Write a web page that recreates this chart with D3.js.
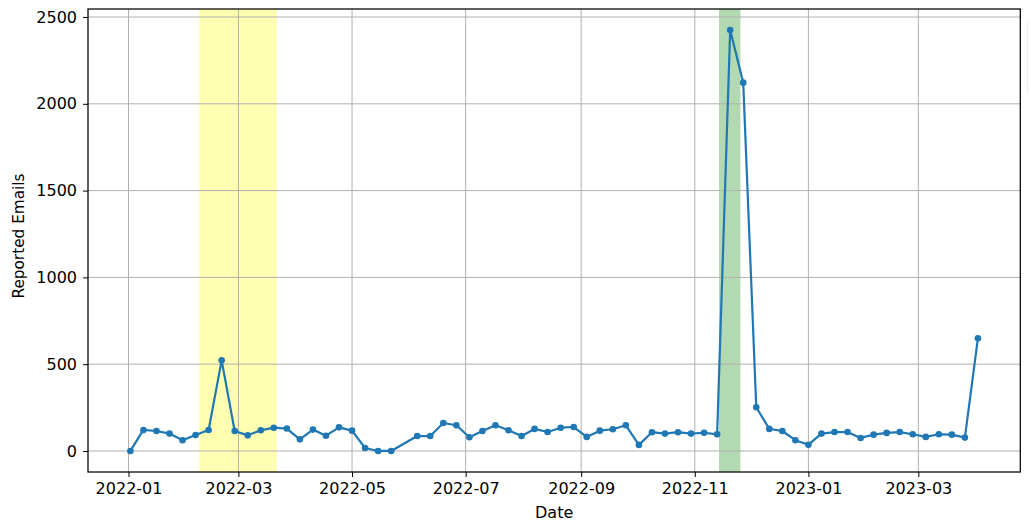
<!DOCTYPE html>
<html>
<head>
<meta charset="utf-8">
<script src="https://cdn.jsdelivr.net/npm/d3@7"></script>
<style>
  html, body { margin: 0; padding: 0; background: #fff; }
  svg { display: block; font-family: "DejaVu Sans", sans-serif; }
</style>
</head>
<body>
<svg id="chart" width="1031" height="523"></svg>
<script>
// ---- data ----
const dates = [
  "2022-01-02","2022-01-09","2022-01-16","2022-01-23","2022-01-30","2022-02-06","2022-02-13",
  "2022-02-20","2022-02-27","2022-03-06","2022-03-13","2022-03-20","2022-03-27","2022-04-03",
  "2022-04-10","2022-04-17","2022-04-24","2022-05-01","2022-05-08","2022-05-15","2022-05-22",
  "2022-06-05","2022-06-12","2022-06-19","2022-06-26","2022-07-03","2022-07-10","2022-07-17",
  "2022-07-24","2022-07-31","2022-08-07","2022-08-14","2022-08-21","2022-08-28","2022-09-04",
  "2022-09-11","2022-09-18","2022-09-25","2022-10-02","2022-10-09","2022-10-16","2022-10-23",
  "2022-10-30","2022-11-06","2022-11-13","2022-11-20","2022-11-27","2022-12-04","2022-12-11",
  "2022-12-18","2022-12-25","2023-01-01","2023-01-08","2023-01-15","2023-01-22","2023-01-29",
  "2023-02-05","2023-02-12","2023-02-19","2023-02-26","2023-03-05","2023-03-12","2023-03-19",
  "2023-03-26","2023-04-02"
];
const reportedEmails = [
  0,121,115,100,62,92,121,
  522,115,90,119,134,129,67,
  123,88,136,117,17,0,0,
  86,86,161,148,79,115,148,
  119,86,127,109,134,138,81,
  117,125,148,35,108,100,108,
  100,105,96,2425,2122,252,127,
  115,62,36,100,109,109,75,
  94,104,109,96,81,96,94,
  77,649
];
const highlightSpans = [
  { start: "2022-02-08", end: "2022-03-21T12:00", color: "#ffff00" },
  { start: "2022-11-14", end: "2022-11-25T12:00", color: "#008000" }
];
const xTickLabels = ["2022-01","2022-03","2022-05","2022-07","2022-09","2022-11","2023-01","2023-03"];
const yTicks = [0, 500, 1000, 1500, 2000, 2500];
const xLabel = "Date";
const yLabel = "Reported Emails";

// ---- layout ----
const W = 1031, H = 523;
const plot = { left: 88, right: 1020.3, top: 9, bottom: 472 };
const parse = d3.utcParse("%Y-%m-%d");
const parseSpan = s => d3.utcParse("%Y-%m-%dT%H:%M")(s) || parse(s);
const parseMonth = d3.utcParse("%Y-%m");
const data = dates.map((d, i) => ({ date: parse(d), value: reportedEmails[i] }));

const xExt = d3.extent(data, d => +d.date);
const xPad = (xExt[1] - xExt[0]) * 0.05;
const x = d3.scaleUtc()
  .domain([new Date(xExt[0] - xPad), new Date(xExt[1] + xPad)])
  .range([plot.left, plot.right]);

const yExt = d3.extent(data, d => d.value);
const yPad = (yExt[1] - yExt[0]) * 0.05;
const y = d3.scaleLinear()
  .domain([yExt[0] - yPad, yExt[1] + yPad])
  .range([plot.bottom, plot.top]);

const svg = d3.select("#chart");
svg.append("rect").attr("width", W).attr("height", H).attr("fill", "#fff");

// spans
svg.append("g").selectAll("rect").data(highlightSpans).join("rect")
  .attr("x", d => x(parseSpan(d.start)))
  .attr("width", d => x(parseSpan(d.end)) - x(parseSpan(d.start)))
  .attr("y", plot.top)
  .attr("height", plot.bottom - plot.top)
  .attr("fill", d => d.color)
  .attr("fill-opacity", 0.3);

// grid
const xTickDates = xTickLabels.map(parseMonth);
const grid = svg.append("g").attr("stroke", "#b0b0b0").attr("stroke-width", 1);
grid.selectAll("line.gx").data(xTickDates).join("line")
  .attr("class", "gx")
  .attr("x1", d => x(d)).attr("x2", d => x(d))
  .attr("y1", plot.top).attr("y2", plot.bottom);
grid.selectAll("line.gy").data(yTicks).join("line")
  .attr("class", "gy")
  .attr("x1", plot.left).attr("x2", plot.right)
  .attr("y1", d => y(d)).attr("y2", d => y(d));

// line + markers
const line = d3.line().x(d => x(d.date)).y(d => y(d.value));
svg.append("path").datum(data)
  .attr("fill", "none")
  .attr("stroke", "#1f77b4")
  .attr("stroke-width", 2.2)
  .attr("stroke-linejoin", "round")
  .attr("stroke-linecap", "square")
  .attr("d", line);
svg.append("g").selectAll("circle").data(data).join("circle")
  .attr("cx", d => x(d.date)).attr("cy", d => y(d.value))
  .attr("r", 3.3).attr("fill", "#1f77b4");

// axes
const xAxis = d3.axisBottom(x).tickValues(xTickDates).tickFormat(d3.utcFormat("%Y-%m"))
  .tickSizeOuter(0).tickSize(5).tickPadding(6);
const gx = svg.append("g").attr("transform", `translate(0,${plot.bottom})`).call(xAxis);
gx.select(".domain").remove();
gx.selectAll("text").attr("font-size", 16).attr("fill", "#000").attr("font-family", "DejaVu Sans");
gx.selectAll("line").attr("stroke", "#000").attr("stroke-width", 1);

const yAxis = d3.axisLeft(y).tickValues(yTicks).tickFormat(d3.format("d"))
  .tickSizeOuter(0).tickSize(5).tickPadding(6);
const gy = svg.append("g").attr("transform", `translate(${plot.left},0)`).call(yAxis);
gy.select(".domain").remove();
gy.selectAll("text").attr("font-size", 16).attr("fill", "#000").attr("font-family", "DejaVu Sans");
gy.selectAll("line").attr("stroke", "#000").attr("stroke-width", 1);

// frame
svg.append("rect")
  .attr("x", plot.left).attr("y", plot.top)
  .attr("width", plot.right - plot.left).attr("height", plot.bottom - plot.top)
  .attr("fill", "none").attr("stroke", "#000").attr("stroke-width", 1.25);

// faint clipped legend edge at right
svg.append("line").attr("x1", 1027.5).attr("x2", 1027.5).attr("y1", 20).attr("y2", 93)
  .attr("stroke", "#eeeeee").attr("stroke-width", 1);

// labels
svg.append("text").attr("x", (plot.left + plot.right) / 2).attr("y", 518)
  .attr("text-anchor", "middle").attr("font-size", 16).text(xLabel);
svg.append("text")
  .attr("transform", `translate(23.5,236) rotate(-90)`)
  .attr("text-anchor", "middle").attr("font-size", 15.3).text(yLabel);
</script>
</body>
</html>
